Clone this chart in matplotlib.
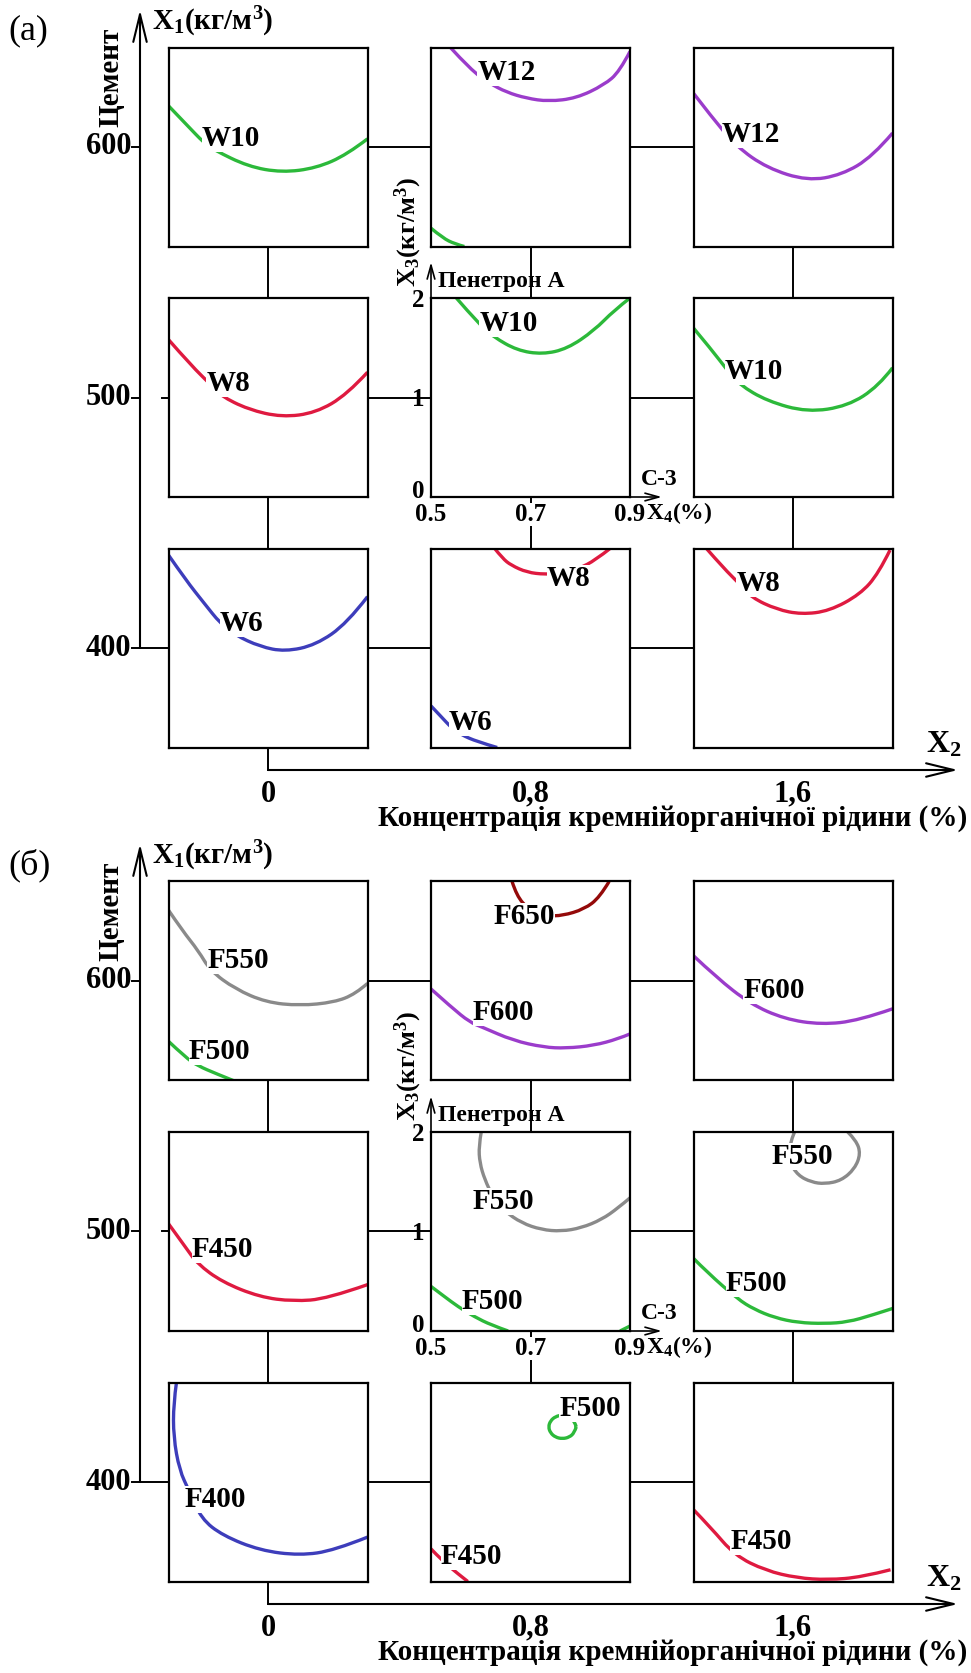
import matplotlib.pyplot as plt
import matplotlib.transforms as mtransforms
from matplotlib.path import Path
from matplotlib.patches import PathPatch

plt.rcParams['font.family'] = ['Liberation Serif', 'DejaVu Serif']
plt.rcParams['font.weight'] = 'bold'
plt.rcParams['mathtext.fontset'] = 'custom'
plt.rcParams['mathtext.rm'] = 'Liberation Serif:bold'
plt.rcParams['mathtext.it'] = 'Liberation Serif:bold'
plt.rcParams['mathtext.bf'] = 'Liberation Serif:bold'

# outer factors: X2 (organosilicon liquid, %) and X1 (cement, kg/m3)
x2_levels = [0, 0.8, 1.6]
x2_ticklabels = ['0', '0,8', '1,6']
x1_levels = [400, 500, 600]
x1_ticklabels = ['400', '500', '600']
# inner factors in every box: X4 (C-3, %) and X3 (Penetron A, kg/m3)
x4_ticks = [0.5, 0.7, 0.9]
x4_ticklabels = ['0.5', '0.7', '0.9']
x3_ticks = [0, 1, 2]
x3_ticklabels = ['0', '1', '2']

# ---- panel (a): water resistance isolines, (X4, X3) points
a_600_0_w10 = ([0.5, 0.536, 0.572, 0.591, 0.660, 0.728, 0.797, 0.859, 0.9],
               [1.414, 1.226, 1.038, 0.972, 0.804, 0.744, 0.788, 0.924, 1.082])
a_600_08_w12 = ([0.539, 0.580, 0.617, 0.652, 0.692, 0.736, 0.792, 0.848, 0.879, 0.9],
                [2.0, 1.776, 1.642, 1.55, 1.49, 1.458, 1.49, 1.624, 1.758, 1.96])
a_600_08_w10 = ([0.5, 0.524, 0.548, 0.567],
                [0.184, 0.084, 0.026, 0.0])
a_600_16_w12 = ([0.5, 0.536, 0.586, 0.648, 0.729, 0.798, 0.86, 0.9],
                [1.54, 1.306, 1.006, 0.788, 0.66, 0.72, 0.904, 1.14])
a_500_0_w8 = ([0.5, 0.547, 0.585, 0.604, 0.660, 0.728, 0.796, 0.859, 0.9],
              [1.582, 1.314, 1.13, 1.02, 0.88, 0.802, 0.846, 1.03, 1.254])
a_500_08_w10 = ([0.551, 0.599, 0.626, 0.673, 0.724, 0.774, 0.828, 0.868, 0.9],
                [2.0, 1.724, 1.608, 1.474, 1.434, 1.49, 1.674, 1.876, 2.0])
a_500_16_w10 = ([0.5, 0.536, 0.567, 0.592, 0.648, 0.729, 0.810, 0.872, 0.9],
                [1.698, 1.482, 1.28, 1.13, 0.964, 0.852, 0.914, 1.114, 1.298])
a_400_0_w6 = ([0.5, 0.535, 0.572, 0.604, 0.634, 0.684, 0.734, 0.796, 0.859, 0.9],
              [1.934, 1.682, 1.448, 1.248, 1.13, 1.014, 0.964, 1.03, 1.248, 1.516])
a_400_08_w8 = ([0.628, 0.644, 0.661, 0.693, 0.729, 0.76, 0.798, 0.83, 0.86],
               [2.0, 1.9, 1.832, 1.76, 1.74, 1.75, 1.8, 1.882, 2.0])
a_400_08_w6 = ([0.5, 0.52, 0.542, 0.561, 0.592, 0.633],
               [0.418, 0.312, 0.194, 0.128, 0.06, 0.0])
a_400_16_w8 = ([0.526, 0.561, 0.592, 0.617, 0.667, 0.717, 0.773, 0.835, 0.872, 0.895],
               [2.0, 1.8, 1.648, 1.506, 1.388, 1.338, 1.372, 1.54, 1.75, 1.984])

# ---- panel (б): frost resistance isolines
b_600_0_f550 = ([0.5, 0.528, 0.56, 0.584, 0.634, 0.696, 0.764, 0.833, 0.876, 0.9],
                [1.712, 1.506, 1.304, 1.104, 0.92, 0.786, 0.752, 0.786, 0.87, 0.976])
b_600_0_f500 = ([0.5, 0.534, 0.558, 0.597, 0.63],
                [0.394, 0.234, 0.15, 0.066, 0.0])
b_600_08_f650 = ([0.663, 0.672, 0.696, 0.734, 0.764, 0.808, 0.839, 0.858],
                 [2.0, 1.856, 1.722, 1.656, 1.656, 1.722, 1.84, 2.0])
b_600_08_f600 = ([0.5, 0.541, 0.578, 0.603, 0.665, 0.727, 0.771, 0.827, 0.876, 0.9],
                 [0.92, 0.736, 0.586, 0.536, 0.402, 0.334, 0.324, 0.352, 0.418, 0.468])
b_600_16_f600 = ([0.5, 0.546, 0.614, 0.683, 0.757, 0.832, 0.9],
                 [1.254, 1.036, 0.77, 0.618, 0.562, 0.602, 0.72])
b_500_0_f450 = ([0.5, 0.534, 0.558, 0.608, 0.683, 0.751, 0.819, 0.9],
                [1.078, 0.844, 0.676, 0.492, 0.342, 0.298, 0.324, 0.466])
b_500_08_f550 = ([0.601, 0.596, 0.598, 0.608, 0.624, 0.648, 0.682, 0.722, 0.762, 0.802, 0.843, 0.876, 0.9],
                 [2.0, 1.858, 1.69, 1.522, 1.354, 1.204, 1.086, 1.018, 1.002, 1.036, 1.12, 1.236, 1.338])
b_500_08_f500 = ([0.5, 0.527, 0.554, 0.587, 0.621, 0.655],
                 [0.448, 0.346, 0.246, 0.144, 0.06, 0.0])
b_500_08_f500b = ([0.88, 0.9],
                  [0.0, 0.05])
b_500_16_f550 = ([0.703, 0.692, 0.693, 0.710, 0.737, 0.764, 0.797, 0.824, 0.836, 0.827, 0.810],
                 [2.0, 1.866, 1.698, 1.564, 1.496, 1.478, 1.512, 1.63, 1.782, 1.916, 2.0])
b_500_16_f500 = ([0.5, 0.528, 0.589, 0.622, 0.663, 0.71, 0.764, 0.81, 0.858, 0.9],
                 [0.73, 0.588, 0.32, 0.218, 0.134, 0.084, 0.074, 0.09, 0.158, 0.226])
b_400_0_f400 = ([0.516, 0.51, 0.51, 0.522, 0.541, 0.566, 0.609, 0.684, 0.764, 0.833, 0.9],
                [2.0, 1.788, 1.454, 1.118, 0.916, 0.63, 0.462, 0.312, 0.262, 0.312, 0.446])
b_400_08_f500 = ([0.792, 0.788, 0.778, 0.764, 0.750, 0.740, 0.736, 0.740, 0.750, 0.764, 0.778, 0.788, 0.792],
                 [1.554, 1.614, 1.658, 1.674, 1.658, 1.614, 1.554, 1.494, 1.450, 1.434, 1.450, 1.494, 1.554])
b_400_08_f450 = ([0.5, 0.522, 0.554, 0.574],
                 [0.328, 0.212, 0.078, 0.0])
b_400_16_f450 = ([0.5, 0.534, 0.583, 0.645, 0.708, 0.77, 0.838, 0.896],
                 [0.722, 0.546, 0.262, 0.11, 0.036, 0.016, 0.044, 0.118])

GREEN = '#2cb93a'
PURPLE = '#9b3ccb'
RED = '#df1a40'
BLUE = '#3d3dbb'
GREY = '#8a8a8a'
DARKRED = '#940a0a'

# (X1, X2) grid cell -> [(curve, label, colour, label X4, label X3)]
panel_a = {
    (600, 0.0): [(a_600_0_w10, 'W10', GREEN, 0.625, 1.09)],
    (600, 0.8): [(a_600_08_w12, 'W12', PURPLE, 0.652, 1.75), (a_600_08_w10, None, GREEN, 0, 0)],
    (600, 1.6): [(a_600_16_w12, 'W12', PURPLE, 0.616, 1.13)],
    (500, 0.0): [(a_500_0_w8, 'W8', RED, 0.62, 1.14)],
    (500, 0.8): [(a_500_08_w10, 'W10', GREEN, 0.656, 1.74)],
    (500, 1.6): [(a_500_16_w10, 'W10', GREEN, 0.621, 1.26)],
    (400, 0.0): [(a_400_0_w6, 'W6', BLUE, 0.647, 1.25)],
    (400, 0.8): [(a_400_08_w8, 'W8', RED, 0.777, 1.70), (a_400_08_w6, 'W6', BLUE, 0.58, 0.25)],
    (400, 1.6): [(a_400_16_w8, 'W8', RED, 0.63, 1.65)],
}
panel_b = {
    (600, 0.0): [(b_600_0_f550, 'F550', GREY, 0.64, 1.21), (b_600_0_f500, 'F500', GREEN, 0.603, 0.29)],
    (600, 0.8): [(b_600_08_f650, 'F650', DARKRED, 0.688, 1.65), (b_600_08_f600, 'F600', PURPLE, 0.646, 0.68)],
    (600, 1.6): [(b_600_16_f600, 'F600', PURPLE, 0.662, 0.90)],
    (500, 0.0): [(b_500_0_f450, 'F450', RED, 0.609, 0.82)],
    (500, 0.8): [(b_500_08_f550, 'F550', GREY, 0.645, 1.30), (b_500_08_f500, 'F500', GREEN, 0.624, 0.30),
                 (b_500_08_f500b, None, GREEN, 0, 0)],
    (500, 1.6): [(b_500_16_f550, 'F550', GREY, 0.718, 1.75), (b_500_16_f500, 'F500', GREEN, 0.627, 0.48)],
    (400, 0.0): [(b_400_0_f400, 'F400', BLUE, 0.594, 0.82)],
    (400, 0.8): [(b_400_08_f500, 'F500', GREEN, 0.82, 1.74), (b_400_08_f450, 'F450', RED, 0.582, 0.25)],
    (400, 1.6): [(b_400_16_f450, 'F450', RED, 0.636, 0.40)],
}

# pixel layout of one panel
W_PX, H_PX = 971, 1673
PANEL_H = 834
PX_X2_0 = 268.0      # pixel column of X2 = 0
PX_PER_X2 = 328.125
PY_X1_600 = 147.0    # pixel row of X1 = 600 inside a panel
PX_PER_X1 = 2.505
BOX_HALF = 99.5      # half size of a small box in pixels

fig = plt.figure(figsize=(W_PX / 100, H_PX / 100), dpi=100)
fig.patch.set_facecolor('white')


def px2x(px):
    return (px - PX_X2_0) / PX_PER_X2


def py2y(py):
    return 600 - (py - PY_X1_600) / PX_PER_X1


def arrow(ax, start, end, ms=22, lw=1.5):
    ax.annotate('', xy=end, xytext=start,
                arrowprops=dict(arrowstyle='->, head_length=0.9, head_width=0.22',
                                lw=lw, color='k', shrinkA=0, shrinkB=0,
                                mutation_scale=ms))


def smooth_line(ax, xs, ys, color):
    # quadratic bezier pieces through the read points (points act as control points)
    pts = list(zip(xs, ys))
    verts = [pts[0]]
    codes = [Path.MOVETO]
    if len(pts) == 2:
        verts.append(pts[1])
        codes.append(Path.LINETO)
    else:
        for i in range(1, len(pts) - 2):
            mid = ((pts[i][0] + pts[i + 1][0]) / 2, (pts[i][1] + pts[i + 1][1]) / 2)
            verts += [pts[i], mid]
            codes += [Path.CURVE3, Path.CURVE3]
        verts += [pts[-2], pts[-1]]
        codes += [Path.CURVE3, Path.CURVE3]
    ax.add_patch(PathPatch(Path(verts, codes), fill=False, edgecolor=color,
                           lw=2.4, capstyle='butt', joinstyle='round'))


def draw_panel(top, tag, cells):
    ax = fig.add_axes([0, 1 - (top + PANEL_H) / H_PX, 1, PANEL_H / H_PX])
    ax.set_xlim(px2x(0), px2x(W_PX))
    ax.set_ylim(py2y(PANEL_H), py2y(0))
    ax.axis('off')

    # connectors between the boxes
    for x1 in x1_levels:
        ax.plot([x2_levels[0], x2_levels[-1]], [x1, x1], color='k', lw=1.4, zorder=1)
    for x2 in x2_levels:
        ax.plot([x2, x2], [x1_levels[0], x1_levels[-1]], color='k', lw=1.4, zorder=1)

    # X1 axis
    ax_x = px2x(140)
    ax.plot([ax_x, 0], [x1_levels[0], x1_levels[0]], color='k', lw=1.4)
    arrow(ax, (ax_x, x1_levels[0]), (ax_x, py2y(10)))
    for x1, lab in zip(x1_levels, x1_ticklabels):
        ax.plot([px2x(132), ax_x], [x1, x1], color='k', lw=1.4)
        ax.text(px2x(131), x1, lab, ha='right', va='center', fontsize=22)
    ax.plot([px2x(162), px2x(168)], [500, 500], color='k', lw=1.4)
    ax.text(px2x(152), py2y(22), 'X$_1$(кг/м$^3$)', ha='left', va='center', fontsize=21)
    ax.text(px2x(111), py2y(77), 'Цемент', ha='center', va='center', rotation=90, fontsize=21)
    ax.text(px2x(8), py2y(31), tag, ha='left', va='center', fontsize=26, fontweight='normal')

    # X2 axis
    y_ax = py2y(770)
    ax.plot([0, 0], [x1_levels[0], y_ax], color='k', lw=1.4)
    arrow(ax, (0, y_ax), (px2x(958), y_ax))
    for x2, lab in zip(x2_levels, x2_ticklabels):
        ax.text(x2, py2y(794), lab, ha='center', va='center', fontsize=22)
    ax.text(px2x(944), py2y(745), 'X$_2$', ha='center', va='center', fontsize=23)
    ax.text(px2x(967), py2y(819), 'Концентрація кремнійорганічної рідини (%)',
            ha='right', va='center', fontsize=21)

    inv = fig.transFigure.inverted()
    for (x1, x2), curves in cells.items():
        cx, cy = ax.transData.transform((x2, x1))
        l, b = inv.transform((cx - BOX_HALF, cy - BOX_HALF))
        r, t = inv.transform((cx + BOX_HALF, cy + BOX_HALF))
        bx = fig.add_axes([l, b, r - l, t - b])
        bx.set_facecolor('white')
        bx.set_xlim(x4_ticks[0], x4_ticks[-1])
        bx.set_ylim(x3_ticks[0], x3_ticks[-1])
        for s in bx.spines.values():
            s.set_linewidth(1.6)
        for (xs, ys), lab, col, lx, ly in curves:
            smooth_line(bx, xs, ys, col)
            if lab:
                bx.text(lx, ly, lab, ha='center', va='center', fontsize=21, zorder=4,
                        bbox=dict(facecolor='white', edgecolor='none', pad=0))
        if (x1, x2) == (500, 0.8):
            bx.set_xticks(x4_ticks)
            bx.set_xticklabels(x4_ticklabels)
            bx.set_yticks(x3_ticks)
            bx.set_yticklabels(x3_ticklabels)
            bx.tick_params(axis='x', length=0, labelsize=18, pad=4)
            bx.tick_params(axis='y', length=0, labelsize=18, pad=5)
            for t_ in bx.get_xticklabels():
                t_.set_bbox(dict(facecolor='white', edgecolor='none', pad=0))
            zero_lab = bx.get_yticklabels()[0]
            zero_lab.set_transform(zero_lab.get_transform() +
                                   mtransforms.ScaledTranslation(0, 6 / 72, fig.dpi_scale_trans))
            bx.spines['top'].set_visible(False)
            bx.spines['right'].set_visible(False)
            bx.plot([0.5, 0.9], [2, 2], color='k', lw=1.6, clip_on=False, zorder=5)
            bx.plot([0.9, 0.9], [0, 2], color='k', lw=1.6, clip_on=False, zorder=5)
            bx.annotate('', xy=(0, 1.18), xytext=(0, 1.0), xycoords='axes fraction',
                        arrowprops=dict(arrowstyle='->, head_length=0.9, head_width=0.25',
                                        lw=1.2, color='k', shrinkA=0, shrinkB=0,
                                        mutation_scale=11))
            bx.annotate('', xy=(1.16, 0), xytext=(1.0, 0), xycoords='axes fraction',
                        arrowprops=dict(arrowstyle='->, head_length=0.9, head_width=0.25',
                                        lw=1.2, color='k', shrinkA=0, shrinkB=0,
                                        mutation_scale=11))
            bx.text(0.035, 1.085, 'Пенетрон А', transform=bx.transAxes,
                    ha='left', va='center', fontsize=17)
            bx.text(-0.116, 1.33, 'X$_3$(кг/м$^3$)', transform=bx.transAxes,
                    ha='center', va='center', rotation=90, fontsize=19)
            bx.text(1.146, 0.09, 'C-3', transform=bx.transAxes,
                    ha='center', va='center', fontsize=17)
            bx.text(1.08, -0.08, 'X$_4$(%)', transform=bx.transAxes,
                    ha='left', va='center', fontsize=17)
        else:
            bx.set_xticks([])
            bx.set_yticks([])


draw_panel(0, '(a)', panel_a)
draw_panel(PANEL_H, '(б)', panel_b)

fig.savefig('out.png', dpi=100, facecolor='white')
